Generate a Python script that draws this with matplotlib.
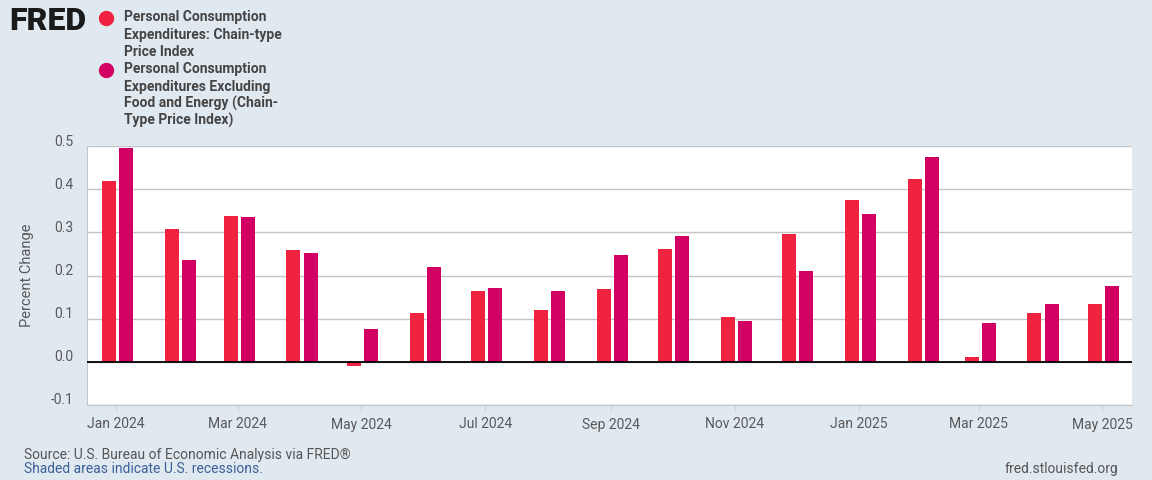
import datetime as dt

import matplotlib
matplotlib.use("Agg")
import matplotlib.pyplot as plt
import matplotlib.dates as mdates
from matplotlib.lines import Line2D
from matplotlib.transforms import ScaledTranslation

plt.rcParams["font.family"] = ["Roboto", "DejaVu Sans"]

# monthly percent change, Jan 2024 .. May 2025
months = [
    "2024-01", "2024-02", "2024-03", "2024-04", "2024-05", "2024-06",
    "2024-07", "2024-08", "2024-09", "2024-10", "2024-11", "2024-12",
    "2025-01", "2025-02", "2025-03", "2025-04", "2025-05",
]
pce = [0.418, 0.307, 0.337, 0.258, -0.010, 0.114, 0.163, 0.119, 0.168,
       0.261, 0.105, 0.295, 0.374, 0.423, 0.012, 0.114, 0.133]
pce_core = [0.495, 0.237, 0.335, 0.251, 0.077, 0.219, 0.170, 0.163, 0.247,
            0.291, 0.094, 0.210, 0.342, 0.474, 0.091, 0.133, 0.175]

series_names = [
    ["Personal Consumption", "Expenditures: Chain-type", "Price Index"],
    ["Personal Consumption", "Expenditures Excluding",
     "Food and Energy (Chain-", "Type Price Index)"],
]
colors = ["#ef2240", "#d20062"]
bg = "#e1e9f0"

dates = [dt.datetime.strptime(m, "%Y-%m") for m in months]
x = mdates.date2num(dates)

W, H = 1152, 480
fig = plt.figure(figsize=(W / 100, H / 100), dpi=100, facecolor=bg)
ax = fig.add_axes([87.3 / W, 1 - 405 / H, (1132 - 87.3) / W, (405 - 146) / H])
ax.set_facecolor("white")

bar_w = 6.9
ax.bar(x - bar_w, pce, width=bar_w, align="edge", color=colors[0], zorder=3)
ax.bar(x + 1.5, pce_core, width=bar_w, align="edge", color=colors[1], zorder=3)
ax.axhline(0, color="black", lw=1.3, zorder=4)

ax.set_ylim(-0.1, 0.5)
ax.set_xlim(mdates.date2num(dt.datetime(2023, 12, 18)),
            mdates.date2num(dt.datetime(2025, 5, 15, 14)))
ax.set_yticks([-0.1, 0.0, 0.1, 0.2, 0.3, 0.4, 0.5])
ax.yaxis.set_major_formatter(plt.FuncFormatter(lambda v, p: f"{v:.1f}"))
ax.xaxis.set_major_locator(mdates.MonthLocator(bymonth=[1, 3, 5, 7, 9, 11]))
ax.xaxis.set_major_formatter(mdates.DateFormatter("%b %Y"))

ax.grid(axis="y", color="#c4c4c4", lw=1.0, zorder=0)
for s in ["top", "right"]:
    ax.spines[s].set_visible(False)
ax.spines["left"].set_color("#c4c4c4")
ax.spines["bottom"].set_color("#c4c4c4")
ax.tick_params(axis="y", length=0, pad=10, labelsize=10, labelcolor="#595959")
ax.tick_params(axis="x", length=4, width=1, color="#c6d4e5", pad=5,
               labelsize=10, labelcolor="#595959")
for lab in ax.get_yticklabels():
    lab.set_transform(lab.get_transform() + ScaledTranslation(0, 0.06, fig.dpi_scale_trans))

fig.text(27 / W, 1 - 275 / H, "Percent Change", rotation=90, ha="center",
         va="center", fontsize=10.5, color="#595959")

# logo
fig.text(9 / W, 1 - 21.5 / H, "FRED", fontsize=23, fontweight="black",
         color="#1a1a1a", ha="left", va="center")

# legend
y0 = [17.5, 69.5]
for i, lines in enumerate(series_names):
    fig.add_artist(Line2D([106 / W], [1 - y0[i] / H], marker="o", markersize=10,
                          color=colors[i], transform=fig.transFigure))
    for j, t in enumerate(lines):
        fig.text(124 / W, 1 - (y0[i] + 17 * j) / H, t, fontsize=10,
                 fontweight="bold", color="#444444", ha="left", va="center")

# footer
fig.text(24 / W, 1 - 455 / H, "Source: U.S. Bureau of Economic Analysis via FRED®",
         fontsize=10, color="#555555", ha="left", va="center")
fig.text(24 / W, 1 - 469 / H, "Shaded areas indicate U.S. recessions.",
         fontsize=10, color="#3b5f99", ha="left", va="center")
fig.text(1118 / W, 1 - 469 / H, "fred.stlouisfed.org", fontsize=10,
         color="#555555", ha="right", va="center")

fig.savefig("out.png", dpi=100, facecolor=bg)
